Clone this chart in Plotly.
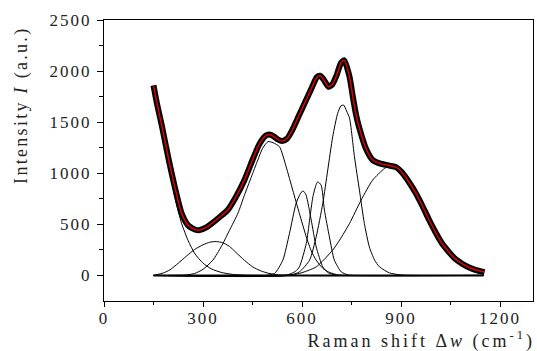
import plotly.graph_objects as go

data_x = [150, 160, 175, 195, 215, 235, 255, 275, 290, 310, 325, 350, 375, 400, 425, 450, 470, 487, 497,
          510, 525, 540, 555, 570, 590, 610, 630, 645, 655, 665, 680, 692, 705, 718, 728, 744, 754, 764,
          774, 794, 814, 835, 865, 885, 905, 925, 945, 965, 985, 1005, 1025, 1045, 1065, 1085, 1105, 1125, 1153]
data_y = [1860, 1690, 1470, 1150, 860, 610, 490, 450, 444, 470, 505, 570, 640, 770, 930, 1130, 1280, 1360, 1378,
          1370, 1335, 1315, 1340, 1420, 1560, 1700, 1840, 1940, 1955, 1920, 1847, 1870, 1960, 2080, 2105, 1945, 1750, 1570,
          1440, 1240, 1130, 1097, 1075, 1060, 1000, 910, 805, 680, 545, 420, 310, 230, 160, 115, 80, 55, 32]

# Fitted components
compA_x = [150, 165, 180, 200, 215, 235, 255, 275, 300, 325, 355, 390, 430, 480, 1150]
compA_y = [1850, 1590, 1330, 1010, 760, 510, 340, 215, 120, 65, 30, 10, 2, 0, 0]

compB_x = [150, 180, 200, 225, 250, 275, 300, 320, 340, 360, 380, 400, 425, 450, 475, 500, 530, 570, 1150]
compB_y = [0, 25, 55, 120, 190, 255, 300, 325, 332, 320, 285, 225, 150, 85, 45, 20, 5, 0, 0]

compC_x = [150, 250, 275, 300, 330, 355, 380, 406, 426, 446, 466, 480, 497, 512, 532, 552, 572, 592, 613, 628, 643, 663, 683, 710, 740, 1150]
compC_y = [0, 5, 20, 60, 150, 280, 440, 610, 790, 960, 1130, 1240, 1310, 1300, 1259, 1063, 835, 607, 378, 240, 150, 70, 30, 5, 0, 0]

compD_x = [150, 490, 517, 542, 562, 582, 595, 603, 612, 628, 643, 663, 680, 700, 720, 1150]
compD_y = [0, 0, 20, 150, 411, 705, 800, 828, 790, 541, 280, 84, 25, 5, 0, 0]

compE_x = [150, 550, 580, 592, 613, 623, 633, 643, 648, 658, 668, 683, 698, 719, 740, 760, 1150]
compE_y = [0, 0, 40, 84, 313, 541, 770, 890, 916, 884, 639, 378, 150, 35, 5, 0, 0]

compF_x = [150, 560, 592, 623, 643, 663, 678, 693, 708, 718, 726, 735, 744, 759, 774, 789, 804, 820, 835, 865, 900, 950, 1150]
compF_y = [0, 0, 35, 150, 378, 705, 1031, 1357, 1586, 1660, 1668, 1610, 1540, 1161, 835, 509, 280, 150, 84, 25, 5, 0, 0]

compG_x = [150, 540, 592, 643, 693, 714, 744, 779, 814, 850, 865, 885, 905, 925, 945, 965, 985, 1005, 1025, 1045, 1065, 1085, 1105, 1125, 1150]
compG_y = [0, 0, 20, 84, 248, 346, 509, 737, 933, 1047, 1070, 1060, 1000, 910, 805, 680, 545, 420, 310, 225, 155, 112, 78, 53, 30]

# Fit curve = same shape as measured data
fit_x = data_x
fit_y = data_y

x_ticks = [0, 300, 600, 900, 1200]
x_ticklabels = ["0", "300", "600", "900", "1200"]
y_ticks = [0, 500, 1000, 1500, 2000, 2500]
y_ticklabels = ["0", "500", "1000", "1500", "2000", "2500"]

fig = go.Figure()

for cx, cy in [(compA_x, compA_y), (compB_x, compB_y), (compC_x, compC_y), (compD_x, compD_y),
               (compE_x, compE_y), (compF_x, compF_y), (compG_x, compG_y)]:
    fig.add_trace(go.Scatter(x=cx, y=cy, mode="lines", line=dict(color="black", width=1, shape="spline", smoothing=0.6),
                             showlegend=False, hoverinfo="skip"))

# baseline
fig.add_trace(go.Scatter(x=[150, 1150], y=[0, 0], mode="lines", line=dict(color="black", width=2),
                         showlegend=False, hoverinfo="skip"))

fig.add_trace(go.Scatter(x=data_x, y=data_y, mode="lines", line=dict(color="black", width=6, shape="spline", smoothing=0.6),
                         showlegend=False))
fig.add_trace(go.Scatter(x=fit_x, y=fit_y, mode="lines", line=dict(color="#e00000", width=1.5, shape="spline", smoothing=0.6),
                         showlegend=False))

serif = "Liberation Serif"
tickfont = dict(family=serif, size=17, color="#222222")

fig.update_layout(
    width=537, height=351,
    margin=dict(l=104, r=4, t=20, b=50),
    plot_bgcolor="white", paper_bgcolor="white",
    showlegend=False,
    font=dict(family=serif, color="#222222"),
    xaxis=dict(range=[0, 1300], tickmode="array", tickvals=x_ticks, ticktext=x_ticklabels,
               ticks="outside", ticklen=5, tickwidth=1, tickcolor="black",
               minor=dict(tickvals=[150, 450, 750, 1050], ticks="outside", ticklen=3, tickcolor="black"),
               showline=True, linecolor="black", linewidth=1, mirror=True,
               showgrid=False, zeroline=False, tickfont=tickfont, ticklabelstandoff=-3),
    yaxis=dict(range=[-250, 2500], tickmode="array", tickvals=y_ticks, ticktext=y_ticklabels,
               ticks="outside", ticklen=6, tickwidth=1, tickcolor="black",
               minor=dict(tickvals=[250, 750, 1250, 1750, 2250], ticks="outside", ticklen=4, tickcolor="black"),
               showline=True, linecolor="black", linewidth=1, mirror=True,
               showgrid=False, zeroline=False, tickfont=tickfont, ticklabelstandoff=2),
)

fig.add_annotation(text="Intensity <i>I</i> (a.u.)", xref="paper", yref="paper",
                   x=-0.193, y=0.6975, xanchor="center", yanchor="middle", textangle=-90, showarrow=False,
                   font=dict(family=serif, size=18, color="#222222"))
fig.add_annotation(text="Raman shift \u0394<i>w</i> (cm<sup>-1</sup>)", xref="paper", yref="paper",
                   x=0.740, y=-0.139, xanchor="center", yanchor="middle", showarrow=False,
                   font=dict(family=serif, size=18, color="#222222"))

post_js = """
document.body.style.margin = '0px';
document.querySelectorAll('.xtick text, .ytick text').forEach(function (t) { t.style.letterSpacing = '2px'; });
var ann = document.querySelectorAll('.annotation-text');
if (ann.length > 0) { ann[0].style.letterSpacing = '2.3px'; }
if (ann.length > 1) { ann[1].style.letterSpacing = '3px'; }
"""

fig.write_html("out.html", post_script=post_js, config={"displayModeBar": False})
